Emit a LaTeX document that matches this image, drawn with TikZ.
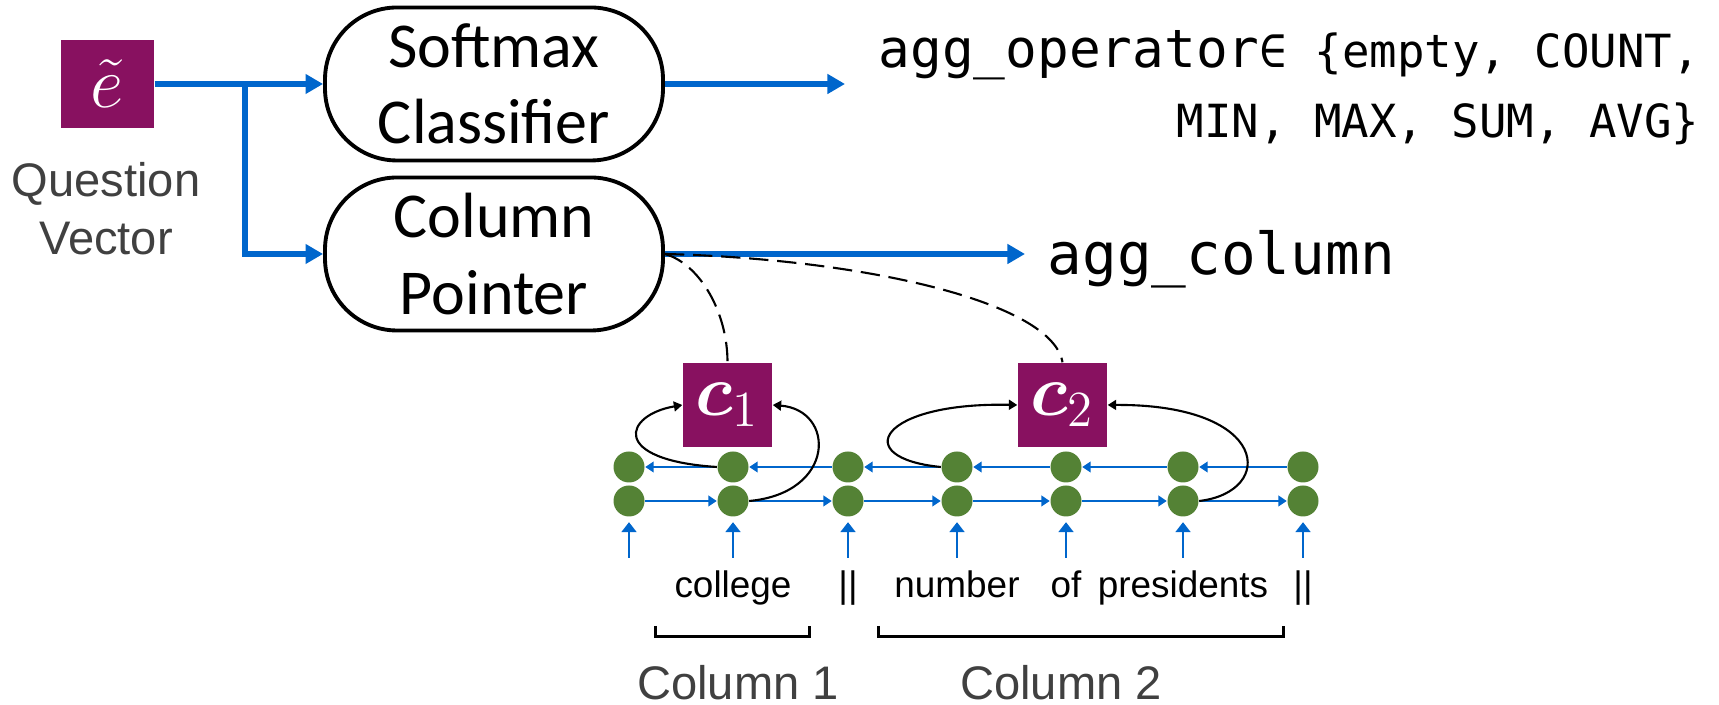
\documentclass[tikz,border=0pt]{standalone}
\usepackage{amsmath}
\usepackage[no-math]{fontspec}
\setmainfont{Carlito}
\newfontfamily\arialfont{Liberation Sans}
\newfontfamily\codefont{DejaVu Sans Mono}
\usepackage{tikz}
\usetikzlibrary{arrows.meta}

\definecolor{plum}{RGB}{136,17,96}
\definecolor{flowblue}{RGB}{0,102,204}
\definecolor{cellgreen}{RGB}{84,130,53}
\definecolor{labelgray}{RGB}{64,64,64}

\begin{document}
\begin{tikzpicture}[x=0.1mm, y=0.1mm, every node/.style={inner sep=0pt},
  vecbox/.style={fill=plum, text=white},
  module/.style={draw, line width=1.1pt, rounded corners=7.2mm, minimum width=33.8mm, minimum height=15.3mm, align=center, font=\fontsize{18.2}{21.8}\selectfont},
  flow/.style={flowblue, line width=1.6pt, -{Triangle[length=5pt,width=5.4pt]}},
  cell/.style={circle, fill=cellgreen, minimum size=3.1mm},
  link/.style={flowblue, line width=0.6pt, -{Triangle[length=2.4pt,width=3pt]}},
  feed/.style={flowblue, line width=0.6pt, -{Triangle[length=2.8pt,width=4.2pt]}, shorten >=0.5mm},
  attend/.style={line width=0.6pt, -{Triangle[length=2.4pt,width=2.8pt]}},
  pointer/.style={dash pattern=on 5.5pt off 2.5pt, line width=0.6pt},
  word/.style={anchor=base, font=\arialfont\fontsize{10.5}{12}\selectfont},
  caption/.style={text=labelgray, font=\arialfont\fontsize{13.4}{16.5}\selectfont}]
  \useasboundingbox (0,0) rectangle (1719,-705);

  % Question vector
  \node[vecbox, minimum width=9.3mm, minimum height=8.8mm, font=\fontsize{21}{22}\selectfont] (qvec) at (107.5,-84) {$\tilde{e}$};
  \node[caption, align=center] (qlabel) at (106,-209) {Question\\Vector};

  % Modules
  \node[module] (softmax) at (494,-84) {Softmax\\Classifier};
  \node[module] (colptr) at (494,-254) {Column\\Pointer};
  \coordinate (split) at (245,-84);
  \draw[flow] (qvec) -- (softmax);
  \draw[flow] (split) |- (colptr);

  % Outputs
  \node[anchor=base west, font=\codefont\fontsize{15}{18}\selectfont] (aggop) at (878,-68) {agg\_operator{\fontsize{13}{15}\selectfont∈ \{empty, COUNT,}};
  \node[anchor=base east, font=\codefont\fontsize{13}{15}\selectfont] (aggset) at (1700,-138) {MIN, MAX, SUM, AVG\}};
  \node[anchor=base west, font=\codefont\fontsize{16.4}{19}\selectfont] (aggcol) at (1047,-275) {agg\_column};
  \draw[flow, shorten >=3.3mm] (softmax) -- (softmax -| aggop.west);
  \draw[flow, shorten >=2.2mm] (colptr) -- (colptr -| aggcol.west);

  % Encoder cells
  \foreach \i/\x in {1/629, 2/733, 3/848, 4/957, 5/1066, 6/1183, 7/1303} {
    \node[cell] (u\i) at (\x,-467) {};
    \node[cell] (l\i) at (\x,-501) {};
    \coordinate (in\i) at (\x,-558);
    \draw[feed] (in\i) -- (l\i);
  }
  \foreach \i/\j in {1/2, 2/3, 3/4, 4/5, 5/6, 6/7} {
    \draw[link] (u\j) -- (u\i);
    \draw[link] (l\i) -- (l\j);
  }
  \foreach \i/\x/\w in {2/733/college, 3/848/{||}, 4/957/number, 5/1066/of, 6/1183/presidents, 7/1303/{||}}
    \node[word] (w\i) at (\x,-598) {\w};

  % Column summaries
  \node[vecbox, minimum width=8.9mm, minimum height=8.4mm, font=\fontsize{21}{22}\selectfont] (c1) at (727.5,-405) {$\boldsymbol{c}_1$};
  \node[vecbox, minimum width=8.9mm, minimum height=8.4mm, font=\fontsize{21}{22}\selectfont] (c2) at (1062.5,-405) {$\boldsymbol{c}_2$};
  \draw[attend] (u2.west) .. controls +(-108,7) and +(-58,-10) .. (c1.west);
  \draw[attend] (l2.east) .. controls +(87,8) and +(63,-5) .. (c1.east);
  \draw[attend] (u4.west) .. controls +(-92,9) and +(-138,3) .. (c2.west);
  \draw[attend] (l6.east) .. controls +(77,9) and +(163,1) .. (c2.east);
  \draw[pointer] (colptr.east) .. controls +(35,-10) and +(0,50) .. (c1.north);
  \draw[pointer] (colptr.east) .. controls +(200,-5) and +(-10,60) .. (c2.north);

  % Column spans
  \draw[line width=0.85pt] (655,-626) -- (655,-637) -- (809,-637) -- (809,-626);
  \draw[line width=0.85pt] (878,-626) -- (878,-637) -- (1283,-637) -- (1283,-626);
  \node[caption, anchor=base] (col1) at (738,-700) {Column 1};
  \node[caption, anchor=base] (col2) at (1061,-700) {Column 2};
\end{tikzpicture}
\end{document}
